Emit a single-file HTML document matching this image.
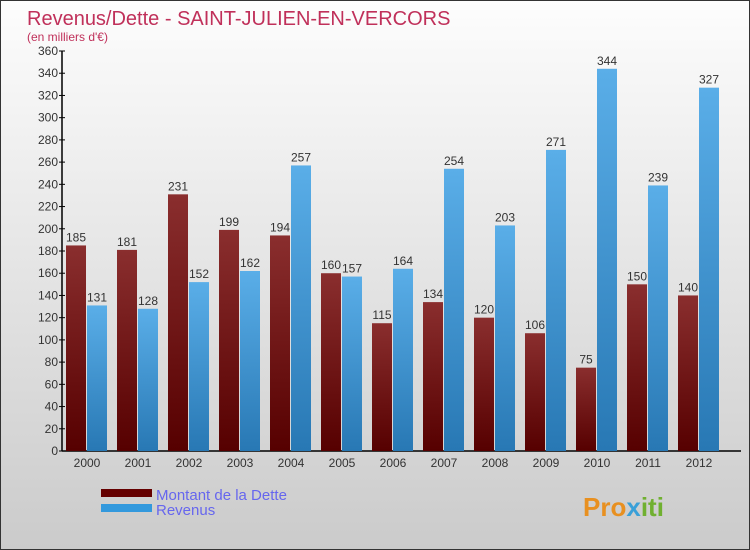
<!DOCTYPE html>
<html><head><meta charset="utf-8"><style>
body{margin:0}
#c{position:relative;width:748px;height:548px;border:1px solid #333;background:linear-gradient(#fdfdfd,#cbcbcb);font-family:"Liberation Sans",sans-serif;overflow:hidden}
</style></head><body>
<div id="c">
<svg id="s" width="748" height="548" xmlns="http://www.w3.org/2000/svg" style="position:absolute;left:0;top:0">
<defs>
<linearGradient id="gd" x1="0" y1="0" x2="0" y2="1"><stop offset="0" stop-color="#8a2e2e"/><stop offset="1" stop-color="#560000"/></linearGradient>
<linearGradient id="gr" x1="0" y1="0" x2="0" y2="1"><stop offset="0" stop-color="#5aaee8"/><stop offset="1" stop-color="#2878b4"/></linearGradient>
</defs>
<text x="26" y="24" font-size="20" fill="#c0305a">Revenus/Dette - SAINT-JULIEN-EN-VERCORS</text>
<text x="26" y="40" font-size="12" fill="#c0305a">(en milliers d'€)</text>
<g id="axes"></g><g id="bars"></g>
<rect x="100" y="488" width="51" height="8" fill="#650000"/>
<rect x="100" y="503" width="51" height="8" fill="#3399dd"/>
<text x="155" y="499" font-size="15" fill="#6666ee">Montant de la Dette</text>
<text x="155" y="514" font-size="15" fill="#6666ee">Revenus</text>
<text x="582" y="515" font-size="26" font-weight="bold" fill="#e89020">Pro<tspan fill="#3aa0d8">x</tspan><tspan fill="#70b030">iti</tspan></text>
</svg>
</div>
<script>
const years=["2000","2001","2002","2003","2004","2005","2006","2007","2008","2009","2010","2011","2012"];
const dette=[185,181,231,199,194,160,115,134,120,106,75,150,140];
const revenus=[131,128,152,162,257,157,164,254,203,271,344,239,327];
const yTicks=[0,20,40,60,80,100,120,140,160,180,200,220,240,260,280,300,320,340,360];
const NS="http://www.w3.org/2000/svg";
const y=v=>450-v*400/360;
const xc=i=>86+i*51;
function mk(t,a,p){const e=document.createElementNS(NS,t);for(const k in a)e.setAttribute(k,a[k]);p.appendChild(e);return e;}
const ax=document.getElementById('axes'),bg=document.getElementById('bars');
const yl=mk('line',{x1:61,y1:50,x2:61,y2:450,stroke:'#000','stroke-width':1.5},ax);


const xl=mk('line',{x1:61,y1:450,x2:740,y2:450,stroke:'#000','stroke-width':1.5},ax);


yTicks.forEach(v=>{
 mk('line',{x1:58,y1:y(v),x2:64,y2:y(v),stroke:'#000'},ax);
 const t=mk('text',{x:57,y:y(v)+4,'font-size':12,'text-anchor':'end',fill:'#333'},ax);t.textContent=v;
 
 
});
years.forEach((yr,i)=>{
 const t=mk('text',{x:xc(i),y:466,'font-size':12,'text-anchor':'middle',fill:'#333'},ax);t.textContent=yr;
 
 
 [[dette[i],xc(i)-21,'url(#gd)','bar-dette'],[revenus[i],xc(i),'url(#gr)','bar-revenus']].forEach(([v,x,f,n])=>{
  const r=mk('rect',{x:x,y:y(v),width:20,height:450-y(v),fill:f},bg);
  
  
  const l=mk('text',{x:x+10,y:y(v)-4,'font-size':12,'text-anchor':'middle',fill:'#333'},bg);l.textContent=v;
  
  
 });
});
</script>
</body></html>
